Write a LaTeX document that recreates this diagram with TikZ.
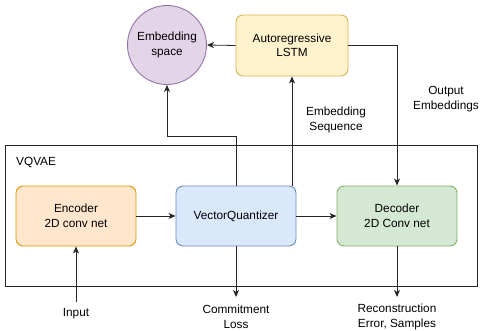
\documentclass[tikz,border=0pt]{standalone}
\usepackage{fontspec}
\setmainfont{Liberation Sans}
\usetikzlibrary{arrows.meta}
\definecolor{encF}{HTML}{FFE6CC}\definecolor{encD}{HTML}{D79B00}
\definecolor{vqF}{HTML}{DAE8FC}\definecolor{vqD}{HTML}{6C8EBF}
\definecolor{decF}{HTML}{D5E8D4}\definecolor{decD}{HTML}{82B366}
\definecolor{lstmF}{HTML}{FFF2CC}\definecolor{lstmD}{HTML}{D6B656}
\definecolor{embF}{HTML}{E1D5E7}\definecolor{embD}{HTML}{9673A6}
\tikzset{
  box/.style={rounded corners=7pt, line width=0.9pt, minimum width=120pt, minimum height=60pt, align=center, inner sep=0pt},
  txt/.style={align=center, inner sep=0pt},
  arr/.style={-{Stealth[length=7pt,width=6pt,inset=2pt]}, line width=0.8pt, draw=black!85},
  ln/.style={line width=0.8pt, draw=black!85},
}
\begin{document}
\begin{tikzpicture}[x=1pt,y=-1pt, font=\fontsize{11.8}{14.5}\selectfont]
\useasboundingbox (0,0) rectangle (481,331);
% frame
\node[draw=black!85, line width=0.9pt, minimum width=472pt, minimum height=141pt, inner sep=0pt] (frame) at (241,215.5) {};
\node[txt, anchor=west] (vqvae) at (16,162) {VQVAE};
% nodes
\node[box, fill=encF, draw=encD] (enc) at (76,216) {Encoder\\2D conv net};
\node[box, fill=vqF, draw=vqD] (vq) at (236,216) {VectorQuantizer};
\node[box, fill=decF, draw=decD] (dec) at (397,216) {Decoder\\2D Conv net};
\node[box, fill=lstmF, draw=lstmD, minimum width=112pt, minimum height=61pt] (lstm) at (292,45.5) {Autoregressive\\LSTM};
\node[circle, fill=embF, draw=embD, line width=0.9pt, minimum size=79pt, inner sep=0pt, align=center] (emb) at (167,45) {Embedding\\space};
% labels
\node[txt] (seq) at (336,120) {Embedding\\Sequence};
\node[txt] (outemb) at (446,99) {Output\\Embeddings};
\node[txt] (input) at (76,314) {Input};
\node[txt] (commit) at (236,317) {Commitment\\Loss};
\node[txt] (recon) at (397,317) {Reconstruction\\Error, Samples};
\coordinate (inp) at (76,302);
\coordinate (cl) at (236,297);
\coordinate (rc) at (397,297);
% connectors
\draw[arr] (enc.east) -- (vq.west);
\draw[arr] (vq.east) -- (dec.west);
\draw[arr] (inp) -- (enc.south);
\draw[arr] (vq.south) -- (cl);
\draw[arr] (dec.south) -- (rc);
\draw[arr] (vq.north) -- (vq.north |- 0,136) -| (emb.south);
\draw[arr] (vq.north -| lstm.south) -- (lstm.south);
\draw[arr] (lstm.west) -- (emb.east);
\draw[arr] (lstm.east) -| (dec.north);
\end{tikzpicture}
\end{document}
